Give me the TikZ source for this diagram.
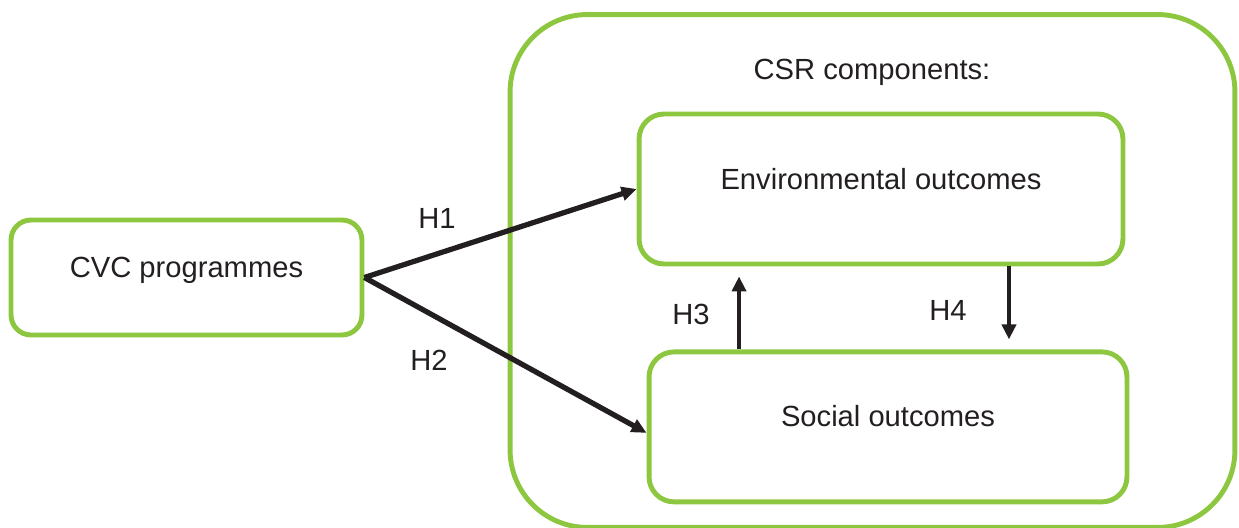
\documentclass[tikz,border=0pt]{standalone}
\usepackage{fontspec}
\setmainfont{Liberation Sans}
\usetikzlibrary{positioning,arrows.meta}
\definecolor{leafgreen}{HTML}{8DC63F}
\definecolor{ink}{HTML}{231F20}

\begin{document}
\begin{tikzpicture}[x=0.02cm, y=-0.02cm, font=\fontsize{16.6}{20}\selectfont, text=ink,
  outcomebox/.style={rounded corners=0.5cm, draw=leafgreen, line width=2.8pt, minimum height=3cm, text height=0.45cm, text depth=0.45cm},
  hyparrow/.style={-{Triangle[length=0.3cm,width=0.27cm]}, draw=ink, line width=3pt},
  hyparrowthin/.style={-{Triangle[length=0.3cm,width=0.28cm]}, draw=ink, line width=2.2pt}]
\useasboundingbox (0,0) rectangle (1239,527);
% outer group
\node[rounded corners=1.55cm, draw=leafgreen, line width=2.8pt, minimum width=14.5cm, minimum height=10.26cm] (csr) at (872.5,271) {};
\node (csrtitle) at (872,72) {CSR components:};
% boxes
\node[outcomebox, minimum width=9.68cm] (env) at (881,189) {Environmental outcomes};
\node[outcomebox, minimum width=9.56cm, below=1.66cm of env, xshift=0.14cm] (soc) {Social outcomes};
\node[outcomebox, rounded corners=0.4cm, minimum width=7.02cm, minimum height=2.3cm] (cvc) at (186.5,277.5) {CVC programmes};
% hypotheses
\draw[hyparrow] (cvc.east) -- (env.west);
\draw[hyparrow] (cvc.east) -- ([yshift=-0.12cm]soc.west);
\draw[hyparrowthin, shorten >=0.2cm] ([xshift=-2.98cm]soc.north) -- ([xshift=-2.98cm]soc.north |- env.south);
\draw[hyparrowthin, shorten >=0.2cm] ([xshift=2.56cm]env.south) -- ([xshift=2.56cm]env.south |- soc.north);
\node (h1) at (437,218) {H1};
\node (h2) at (429,360) {H2};
\node (h3) at (691,314) {H3};
\node (h4) at (948,310) {H4};
\end{tikzpicture}
\end{document}
